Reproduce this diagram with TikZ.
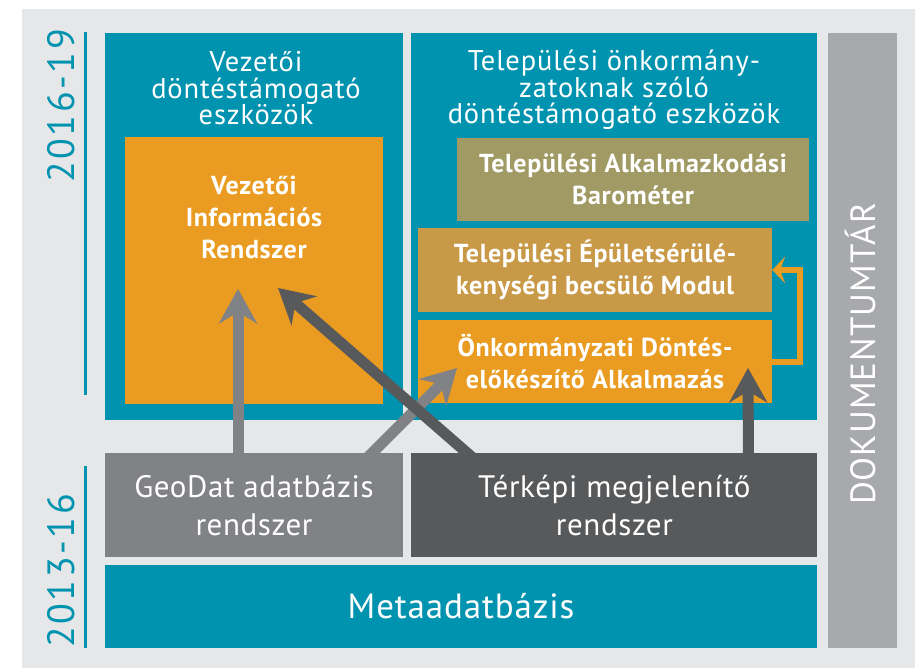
\documentclass[tikz,border=0pt]{standalone}
\usepackage{fontspec}
\setmainfont{PT Sans}
\usetikzlibrary{positioning, arrows.meta}

\definecolor{nagteal}{HTML}{0093AF}
\definecolor{nagorange}{HTML}{EA9C22}
\definecolor{nagolive}{HTML}{A19A64}
\definecolor{naggold}{HTML}{C89A48}
\definecolor{naglight}{HTML}{808285}
\definecolor{nagdark}{HTML}{58595B}
\definecolor{nagdok}{HTML}{A7A9AC}
\definecolor{nagbg}{HTML}{E6E7E8}

\begin{document}
\begin{tikzpicture}[x=1pt, y=-1pt,
	box/.style={rectangle, inner sep=0pt, text=white, align=center},
	tealbox/.style={box, fill=nagteal},
	sysbox/.style={box, fill=#1, font=\fontsize{31}{38}\selectfont\addfontfeature{LetterSpace=2}},
	modbox/.style={box, fill=#1, font=\bfseries\fontsize{26}{32}\selectfont\addfontfeature{LetterSpace=2.5}},
	headtext/.style={text=white, align=center, font=\fontsize{28.5}{26.5}\selectfont\addfontfeature{LetterSpace=3}},
	yeartext/.style={text=nagteal, rotate=90, font=\fontsize{38}{38}\selectfont\addfontfeature{LetterSpace=7}},
	yearline/.style={draw=nagteal, line width=3pt},
	bigarrow/.style={line width=11pt, draw=#1, shorten <=-6pt, -{Stealth[length=35pt, width=39pt, inset=12pt, line width=0pt]}},
	backarrow/.style={line width=6pt, draw=nagorange, line join=miter, -{Stealth[length=13pt, width=27pt, inset=5pt, line width=0pt]}}
]

\useasboundingbox (0,0) rectangle (915,668);
\fill[nagbg] (22,9) rectangle (915,668);

% upper level: 2016-19
\node[tealbox, minimum width=298, minimum height=387] (vezbox) at (254,226.5) {};
\node[tealbox, minimum width=406, minimum height=387, right=8pt of vezbox] (telbox) {};
\node[box, fill=nagdok, minimum width=69, minimum height=615, anchor=north west] (dokbox) at ([xshift=10pt]telbox.north east) {};

\node[headtext] (vezhead) at (256,88.5) {Vezetői\\döntéstámogató\\eszközök};
\node[headtext] (telhead) at (614,90) {Települési önkormány-\\zatoknak szóló\\döntéstámogató eszközök};

\node[modbox=nagorange, minimum width=258, minimum height=267] (vir) at (254,270.5) {};
\node[box, font=\bfseries\fontsize{26}{32}\selectfont\addfontfeature{LetterSpace=2.5}] (virtext) at (254,217) {Vezetői\\Információs\\Rendszer};
\node[modbox=nagolive, minimum width=352, minimum height=83] (barometer) at (633,179.5) {Települési Alkalmazkodási\\Barométer};
\node[modbox=naggold, minimum width=354, minimum height=84] (epulet) at (595,270) {Települési Épületsérülé-\\kenységi becsülő Modul};
\node[modbox=nagorange, minimum width=354, minimum height=83] (onk) at (595,361.5) {Önkormányzati Döntés-\\előkészítő Alkalmazás};

% lower level: 2013-16
\node[sysbox=naglight, minimum width=298, minimum height=104, below=33pt of vezbox] (geodat) {GeoDat adatbázis\\rendszer};
\node[sysbox=nagdark, minimum width=406, minimum height=104, below=33pt of telbox] (terkep) {Térképi megjelenítő\\rendszer};
\node[box, fill=nagteal, minimum width=712, minimum height=83, font=\fontsize{35}{35}\selectfont\addfontfeature{LetterSpace=2.5}] (meta) at (461,606.5) {Metaadatbázis};

\node[box, rotate=90, font=\fontsize{35}{35}\selectfont\addfontfeature{LetterSpace=3}, text height=25pt, text depth=0pt] (doktext) at (862.5,354) {DOKUMENTUMTÁR};

% time scale
\node[yeartext] (yearnew) at (61.5,106) {2016-19};
\node[yeartext] (yearold) at (61.5,571) {2013-16};
\draw[yearline] (85,32) -- (85,395);
\draw[yearline] (85,466) -- (85,648);

% connections
\coordinate (geoA) at ([xshift=-16pt]geodat.north);
\coordinate (geoB) at ([xshift=118pt]geodat.north);
\coordinate (terA) at ([xshift=-147pt]terkep.north);
\coordinate (terB) at ([xshift=134pt]terkep.north);
\coordinate (virA) at (238,289);
\coordinate (virB) at (278,288);
\coordinate (onkA) at (457,368);
\coordinate (onkB) at (748,368);

\foreach \i/\j in {geoA/virA, geoB/onkA}
	\draw[bigarrow=naglight] (\i) -- (\j);

\foreach \i/\j in {terA/virB, terB/onkB}
	\draw[bigarrow=nagdark] (\i) -- (\j);

\draw[backarrow] (onk.east) -- ++(28,0) |- (epulet.east);

\end{tikzpicture}
\end{document}
